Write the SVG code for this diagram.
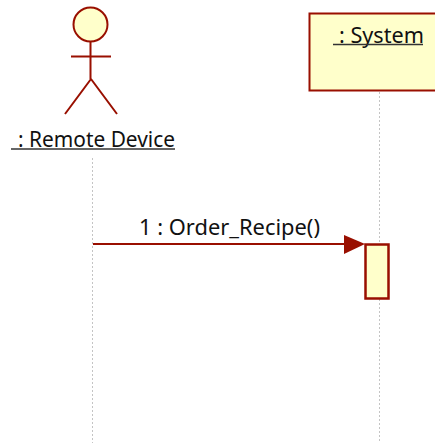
<svg xmlns="http://www.w3.org/2000/svg" width="435" height="443" viewBox="0 0 435 443">
<style>
.s{stroke:#990f00;stroke-width:2;fill:none}
.f{fill:#ffffcb;stroke:#990f00;stroke-width:2.5}
.t{font-family:"Noto Sans","DejaVu Sans",sans-serif;font-size:22.5px;fill:#111}
.u{stroke:#333;stroke-width:1.3}
.l{stroke:#c4c4c4;stroke-width:1;stroke-dasharray:2 2;fill:none}
</style>
<rect width="435" height="443" fill="#fff"/>
<g id="connectors">
<path class="l" d="M92.500 158V443"/>
<path class="l" d="M379.500 92V244M379.500 299V443"/>
<path d="M93 244H346" stroke="#990f00" stroke-width="2" fill="none"/>
<path d="M344 235L365 244L344 254Z" fill="#990f00"/>
<text class="t" x="139" y="235" textLength="181" lengthAdjust="spacingAndGlyphs">1 : Order_Recipe()</text>
</g>
<g id="remote-device">
<circle class="f" cx="90.500" cy="24.500" r="17" style="stroke-width:2"/>
<path class="s" d="M90.500 42V79M71 56.500H111M91 79L65 114M91 79L117 114"/>
<text class="t" x="18" y="146.500" textLength="157" lengthAdjust="spacingAndGlyphs">: Remote Device</text>
<path class="u" d="M11 149H175"/>
</g>
<g id="system">
<path d="M435 13.500H309.500V90.500H435" fill="#ffffcb" stroke="#990f00" stroke-width="2"/>
<text class="t" x="339" y="42.500" textLength="85" lengthAdjust="spacingAndGlyphs">: System</text>
<path class="u" d="M333 44.500H423"/>
</g>
<g id="activation">
<rect class="f" x="365.500" y="244.500" width="23" height="54"/>
</g>
</svg>
